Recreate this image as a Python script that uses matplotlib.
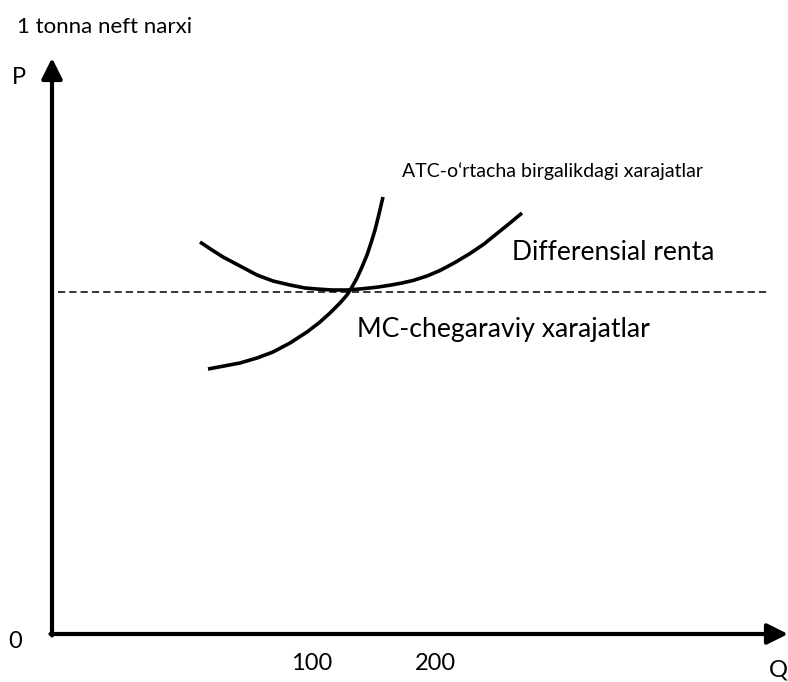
"""
Differensial renta: ATC va MC egri chiziqlari
"""

import matplotlib.pyplot as plt
from matplotlib.patches import ArrowStyle

plt.rcParams["font.family"] = ["Lato", "DejaVu Sans"]

# ATC egri chizig'i (rasm koordinatalarida, px)
atc_x = [200, 212, 223, 240, 257, 273, 290, 305, 317, 332, 347, 362,
         377, 390, 402, 413, 427, 440, 455, 470, 484, 497, 510, 522]
atc_y = [242, 250, 257, 266, 275, 281, 285, 288, 289, 290, 290, 288.8,
         287.2, 285.2, 283, 280.5, 276, 270.5, 262.5, 253.5, 244, 233.5,
         223, 213]

# MC egri chizig'i
mc_x = [208, 224, 240, 257, 273, 290, 307, 320, 330, 340, 347, 352,
        357, 362, 367, 371, 375, 379, 383]
mc_y = [369, 366, 363, 358, 352, 343, 332, 322, 313, 303, 295, 287,
        278, 267, 255, 243, 230, 214, 197]

# narx darajasi (uzuq chiziq)
price_level = 292
dash_x = [58, 768]

# o'qlar
origin = (52, 634)
y_tip = (52, 58)
x_tip = (788, 634)

q_ticks = [312, 435]
q_labels = ["100", "200"]

fig = plt.figure(figsize=(7.88, 6.82), dpi=100)
ax = fig.add_axes([0, 0, 1, 1])
ax.set_xlim(0, 788)
ax.set_ylim(682, 0)
ax.axis("off")

# o'qlar strelka bilan
style = ArrowStyle("-|>", head_length=0.5, head_width=0.25)
arrow = dict(arrowstyle=style, lw=3, color="black", mutation_scale=25,
             shrinkA=0, shrinkB=0)
ax.annotate("", xy=y_tip, xytext=(origin[0], origin[1] + 1.5), arrowprops=arrow)
ax.annotate("", xy=x_tip, xytext=(origin[0] - 1.5, origin[1]), arrowprops=arrow)

# egri chiziqlar
ax.plot(atc_x, atc_y, color="black", lw=2.6, solid_capstyle="butt",
        solid_joinstyle="round")
ax.plot(mc_x, mc_y, color="black", lw=2.6, solid_capstyle="butt",
        solid_joinstyle="round")
ax.plot(dash_x, [price_level, price_level], color="black", lw=1.1,
        linestyle=(0, (4.7, 2.7)))

# yozuvlar
ax.text(17, 27, "1 tonna neft narxi", fontsize=16, ha="left", va="center")
ax.text(19, 77, "P", fontsize=17, ha="center", va="center")
ax.text(15, 642, "0", fontsize=17, ha="center", va="center")
ax.text(778, 670, "Q", fontsize=17, ha="center", va="center")
for x, lab in zip(q_ticks, q_labels):
    ax.text(x, 664, lab, fontsize=17, ha="center", va="center")

ax.text(402, 171, "ATC-o\u2018rtacha birgalikdagi xarajatlar", fontsize=14,
        ha="left", va="center")
ax.text(512, 252, "Differensial renta", fontsize=19, ha="left", va="center")
ax.text(357, 330, "MC-chegaraviy xarajatlar", fontsize=19.2, ha="left",
        va="center")

plt.savefig("out.png", dpi=100)
plt.close()
